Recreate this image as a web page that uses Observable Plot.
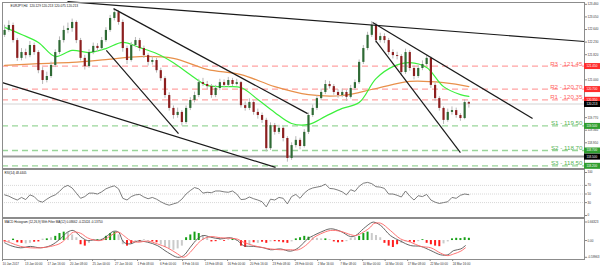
<!DOCTYPE html>
<html>
<head>
<meta charset="utf-8">
<script src="https://cdn.jsdelivr.net/npm/d3@7"></script>
<script src="https://cdn.jsdelivr.net/npm/@observablehq/plot@0.6"></script>
<style>
  html,body{margin:0;padding:0;background:#fff;}
  #chart{position:relative;width:600px;height:268px;overflow:hidden;background:#fff;}
  #chart svg{position:absolute;left:0;}
</style>
</head>
<body>
<div id="chart"></div>
<script>
// ---------- DATA (EURJPY H4, one candle = 3 H4 bars) ----------
const mainHeader = "EURJPY,H4  120.129 120.213 120.075 120.213";
const rsiHeader = "RSI(14) 48.4405";
const macdHeader = "MACD Histogram (12,26,9) With Filter MA(12) 0.08662 -0.22424 -0.13750";

const firstOpen = 122.45;
const closes = [
 122.61,122.77,122.28,121.70,121.89,121.79,122.12,121.89,121.30,120.98,
 121.11,121.47,121.89,122.28,122.61,122.67,122.87,122.28,121.70,121.43,
 121.89,122.09,122.02,122.28,122.61,123.00,123.19,122.87,122.02,121.63,
 122.12,122.28,122.02,121.79,121.57,121.63,121.30,121.04,120.49,120.07,
 119.84,119.94,119.61,120.07,120.33,120.49,120.91,120.85,120.78,120.49,
 120.72,120.91,120.82,120.98,120.85,120.91,120.16,120.07,120.26,119.94,
 119.84,119.68,118.76,119.51,119.29,119.42,119.09,118.44,118.86,119.03,
 118.83,119.29,119.84,120.07,120.39,120.59,120.85,120.78,120.59,120.49,
 120.59,120.43,120.72,120.91,121.57,122.02,122.45,122.77,122.28,122.41,
 122.28,121.89,121.79,121.76,121.24,121.89,121.37,121.11,121.37,121.50,
 121.70,120.82,120.39,120.07,119.68,119.94,120.00,119.84,119.74,120.26,
 120.21];
const highs = [
 122.78,122.92,122.85,122.35,122.02,122.00,122.25,122.20,121.95,121.40,
 121.25,121.58,121.98,122.40,122.75,122.85,122.98,122.92,122.35,121.80,
 121.98,122.20,122.18,122.38,122.70,123.10,123.30,123.25,122.95,122.10,
 122.22,122.38,122.35,122.10,121.85,121.75,121.70,121.38,121.10,120.58,
 120.15,120.08,120.00,120.15,120.42,120.60,121.02,121.05,120.95,120.85,
 120.82,121.02,121.00,121.08,121.05,121.02,120.95,120.28,120.38,120.32,
 120.05,119.92,119.75,119.60,119.58,119.52,119.48,119.15,118.95,119.15,
 119.10,119.38,119.92,120.18,120.48,120.70,120.98,120.95,120.85,120.68,
 120.70,120.66,120.82,121.00,121.65,122.12,122.55,122.90,122.85,122.52,
 122.50,122.35,121.98,121.90,121.82,122.00,121.95,121.45,121.48,121.62,
 121.82,121.75,120.90,120.45,120.12,120.05,120.12,120.08,119.90,120.35,
 120.30];
const lows = [
 122.38,122.55,122.20,121.60,121.62,121.68,121.72,121.80,121.20,120.85,
 120.90,121.05,121.40,121.82,122.20,122.50,122.55,122.18,121.62,121.32,
 121.38,121.82,121.90,121.95,122.22,122.55,122.92,122.78,121.90,121.50,
 121.58,122.05,121.92,121.70,121.45,121.48,121.22,120.95,120.40,119.98,
 119.72,119.75,119.50,119.55,120.00,120.25,120.42,120.78,120.68,120.40,
 120.42,120.65,120.74,120.76,120.78,120.80,120.08,119.98,120.00,119.85,
 119.72,119.58,118.65,118.70,119.20,119.22,118.98,118.32,118.38,118.78,
 118.72,118.78,119.22,119.78,120.00,120.32,120.52,120.70,120.50,120.40,
 120.42,120.30,120.38,120.65,120.85,121.50,121.95,122.38,122.18,122.20,
 122.18,121.80,121.68,121.65,121.12,121.18,121.28,121.00,121.05,121.30,
 121.45,120.72,120.30,119.98,119.55,119.62,119.85,119.75,119.65,119.70,
 120.08];

// moving averages (candle index, price)
const greenIdx = [0,4,8,12,16,20,24,28,32,36,40,44,48,52,56,60,64,68,72,76,80,84,88,92,96,100,104,108,110];
const greenVals = [122.71,122.48,122.22,121.76,121.96,121.89,122.02,122.22,122.05,121.86,
  121.56,121.17,120.82,120.78,120.75,120.36,119.94,119.58,119.55,119.81,
  120.07,120.26,121.04,121.43,121.56,121.40,120.78,120.52,120.46];
const orangeIdx = [0,8,16,24,32,40,48,56,64,72,80,88,96,104,110];
const orangeVals = [121.47,121.53,121.57,121.66,121.76,121.70,121.34,121.17,120.78,120.52,120.49,120.72,120.95,120.91,120.78];

// trend lines (candle index, price)
const trendX1 = [14.9, 25.8, 24.1, -0.5, 87.2, 87.9];
const trendY1 = [123.55, 123.32, 121.96, 120.91, 122.87, 122.28];
const trendX2 = [137.4, 71.8, 41.2, 64.2, 125.1, 108.0];
const trendY2 = [122.25, 119.90, 119.25, 118.15, 119.74, 118.63];

// pivot levels
const levelKinds = ["R","R","R","S","S","S"];
const levelValues = [121.45, 120.70, 120.35, 119.50, 118.70, 118.20];
const levelLabels = ["R3 - 121.45","R2 - 120.70","R1 - 120.35","S1 - 119.50","S2 - 118.70","S3 - 118.50"];
const levelBoxText = ["121.450","120.700","120.350","119.500","118.700","118.200"];
const lastPrice = 120.213;
const greyLevel = 118.50;
const greyLevelText = "118.500";
const priceTicks = [123.46,123.05,122.64,122.23,121.82,121.00,119.77,119.36,118.95];

// RSI(14), one value per candle
const rsiVals = [
 48,45,40,36,42,37,48,44,34,31,
 38,44,48,56,66,70,64,52,40,44,
 52,52,50,55,62,66,69,62,40,36,
 44,48,49,43,39,42,38,32,27,24,
 27,30,38,50,58,65,62,52,54,53,
 57,57,55,54,57,50,37,38,43,39,
 36,32,20,38,36,42,40,27,44,49,
 40,52,60,64,66,68,73,63,62,59,
 55,48,60,56,68,75,77,74,67,66,
 63,50,50,47,43,57,45,36,46,44,
 49,36,31,28,30,32,42,40,47,50,
 48.44];
const rsiLevels = [70, 50, 30];
const rsiTicks = [100, 70, 50, 30, 0];

// MACD histogram, one per candle, with colour code g/r/s
const histVals = [
 -0.05,-0.08,0.05,-0.08,-0.10,-0.12,-0.10,-0.06,-0.05,0.05,
 0.06,0.10,0.15,0.25,0.30,0.28,0.20,0.10,-0.15,-0.20,
 -0.10,0.04,0.03,0.05,0.15,0.25,0.30,0.20,-0.15,-0.20,
 -0.12,-0.05,-0.04,0.03,-0.03,-0.05,-0.08,-0.15,-0.25,-0.30,
 -0.35,-0.30,-0.20,0.10,0.20,0.30,0.25,0.18,0.12,-0.05,
 -0.04,0.05,-0.03,0.03,0.04,-0.02,-0.20,-0.25,-0.15,-0.08,
 -0.10,-0.06,-0.10,-0.05,-0.04,-0.05,-0.08,-0.10,-0.05,0.06,
 0.10,0.15,0.12,0.10,0.08,0.06,0.06,0.03,-0.05,-0.08,
 -0.06,-0.04,0.08,0.10,0.15,0.25,0.30,0.25,0.18,0.10,
 -0.10,-0.20,-0.25,-0.15,-0.10,-0.05,-0.06,-0.08,-0.04,0.03,
 -0.10,-0.15,-0.20,-0.22,-0.12,-0.05,0.06,0.08,0.07,0.10,0.08];
const histCodes = ("rsgrrssrrs" + "gsgggsssrr" + "ssgsgggssr" + "rsrssrrsss" + "sssggggssr" +
  "rsrsgsrrsr" + "srrsrrrrsg" + "gggsssgsrr" + "rsssgggsss" + "rrrrssrrsg" + "rrrrssggggg").split("");

// MACD main / signal lines (candle index)
const macdIdx = [0,1.4,3.8,6.1,8.5,10.9,13.2,14.9,16.3,18,19.6,21.1,22.7,24.4,25.8,27,28.2,29.8,31.5,33.9,
  36.2,38.6,41,42.4,44,45.7,47.1,48.8,51.2,53.5,55.2,56.6,59,61.4,63,65.4,67.7,69.6,71.8,73.2,
  74.9,77.2,79.6,82,83.2,85,86.7,87.4,89.1,91.4,93.8,96.2,98.6,101,103.3,105,106.4,108.1,109.2];
const macdMain = [-0.08,-0.18,-0.26,-0.21,-0.26,-0.18,0.06,0.30,0.36,0.14,0.00,0.02,0.02,0.18,0.33,0.30,-0.06,-0.12,-0.02,-0.06,
  -0.18,-0.42,-0.60,-0.54,-0.24,0.06,0.18,0.12,0.06,0.10,0.00,-0.18,-0.21,-0.26,-0.33,-0.30,-0.38,-0.26,0.06,0.18,
  0.30,0.42,0.33,0.14,0.18,0.42,0.62,0.66,0.54,0.18,-0.02,-0.18,-0.21,-0.36,-0.51,-0.51,-0.36,-0.30,-0.18];
const macdSignal = [-0.01,-0.08,-0.21,-0.26,-0.26,-0.21,-0.10,0.12,0.30,0.26,0.10,0.02,0.00,0.10,0.24,0.30,0.18,0.00,-0.06,-0.02,
  -0.12,-0.26,-0.48,-0.60,-0.42,-0.12,0.06,0.14,0.10,0.08,0.05,-0.06,-0.18,-0.26,-0.30,-0.33,-0.33,-0.33,-0.12,0.10,
  0.24,0.36,0.33,0.21,0.18,0.30,0.48,0.60,0.62,0.36,0.06,-0.06,-0.21,-0.26,-0.45,-0.54,-0.48,-0.38,-0.26];
const macdMax = 0.66323, macdMin = -0.59963;
const macdTicks = [macdMax, 0, macdMin];

// time axis labels (every 16 H4 bars)
const dateLabels = ["10 Jan 2017","13 Jan 00:00","17 Jan 16:00","20 Jan 08:00","25 Jan 00:00","27 Jan 16:00",
  "1 Feb 08:00","6 Feb 00:00","8 Feb 16:00","13 Feb 08:00","16 Feb 00:00","20 Feb 16:00","23 Feb 08:00",
  "28 Feb 00:00","2 Mar 16:00","7 Mar 08:00","10 Mar 00:00","14 Mar 16:00","17 Mar 08:00","22 Mar 00:00","24 Mar 16:00"];

// ---------- BUILD ----------
const FONT = "'Liberation Sans', Arial, sans-serif";
const X_DOMAIN = [-0.5, 137.4];
const X_RANGE = [2, 584];
const X_AXIS_END = X_DOMAIN[1] + (X_DOMAIN[1] - X_DOMAIN[0]) * (600 - X_RANGE[1]) / (X_RANGE[1] - X_RANGE[0]);
const RED = "#ff2d2d", GREEN = "#2f9e2f";

const candles = closes.map((c, i) => ({i, open: i === 0 ? firstOpen : closes[i - 1], close: c, high: highs[i], low: lows[i]}));
const greenMA = greenIdx.map((x, k) => ({x, v: greenVals[k]}));
const orangeMA = orangeIdx.map((x, k) => ({x, v: orangeVals[k]}));
const trends = trendX1.map((x1, k) => ({x1, y1: trendY1[k], x2: trendX2[k], y2: trendY2[k]}));
const levels = levelValues.map((v, k) => ({value: v, kind: levelKinds[k], label: levelLabels[k]}));
const boxes = levelValues.map((v, k) => ({value: v, text: levelBoxText[k], color: levelKinds[k] === "R" ? RED : GREEN}))
  .concat([{value: lastPrice, text: lastPrice.toFixed(3), color: "#000"}, {value: greyLevel, text: greyLevelText, color: "#000"}]);
const histData = histVals.map((v, i) => ({i, v, color: {g: "#16a016", r: "#ff1c1c", s: "#cacaca"}[histCodes[i]]}));
const macdData = macdIdx.map((x, k) => ({x, main: macdMain[k], signal: macdSignal[k]}));
const dateTicks = dateLabels.map((_, k) => 16 * k / 3 - 0.5);
const labelAt = new Map(dateTicks.map((t, k) => [t, dateLabels[k]]));

const baseStyle = {background: "transparent", overflow: "visible", fontFamily: FONT};
const xOpt = {domain: X_DOMAIN, range: X_RANGE, axis: null};

const mainChart = Plot.plot({
  width: 600, height: 169,
  marginTop: 2, marginRight: 16, marginBottom: 1, marginLeft: 2,
  x: xOpt,
  y: {domain: [118.113, 123.52], range: [168, 2], axis: null},
  color: {type: "identity"},
  style: baseStyle,
  marks: [
    Plot.ruleY([lastPrice], {stroke: "#d4d4d4", strokeWidth: 1}),
    Plot.ruleY([greyLevel], {stroke: "#9a9a9a", strokeWidth: 2}),
    Plot.ruleY(levels, {y: "value", stroke: d => d.kind === "R" ? "#ffa3a3" : "#9ad69a", strokeWidth: 1.3, strokeDasharray: "6,4"}),
    Plot.line(orangeMA, {x: "x", y: "v", stroke: "#e8904a", strokeWidth: 1.2, curve: "catmull-rom"}),
    Plot.line(greenMA, {x: "x", y: "v", stroke: "#3cf03c", strokeWidth: 1.2, curve: "catmull-rom"}),
    Plot.ruleX(candles, {x: "i", y1: "low", y2: "high", stroke: "#b8b8b8", strokeWidth: 1}),
    Plot.ruleX(candles, {x: "i", y1: "open", y2: "close", stroke: d => d.close >= d.open ? "#2f6a35" : "#8c1f1f", strokeWidth: 2.2}),
    Plot.link(trends, {x1: "x1", y1: "y1", x2: "x2", y2: "y2", stroke: "#1a1a1a", strokeWidth: 1.2}),
    Plot.text(levels, {x: X_DOMAIN[1], y: "value", text: "label", textAnchor: "end", lineAnchor: "bottom", dx: -2, dy: -0.5,
      fontSize: 6.2, fill: d => d.kind === "R" ? "#ff5f5f" : "#55b455"}),
    Plot.frame({stroke: "#8c8c8c"}),
    Plot.axisY(priceTicks, {anchor: "right", tickSize: 2, tickPadding: 1, tickFormat: d => d.toFixed(3), fontSize: 3, stroke: "#888", fill: "#333"}),
    Plot.ruleY(boxes, {y: "value", x1: X_DOMAIN[1], x2: X_AXIS_END, stroke: "color", strokeWidth: 6}),
    Plot.text(boxes, {x: X_DOMAIN[1], y: "value", text: "text", dx: 2, textAnchor: "start", fill: "#fff", fontSize: 3}),
    Plot.text([mainHeader], {frameAnchor: "top-left", dx: 8, dy: 2, lineAnchor: "top", textAnchor: "start", fontSize: 3.2, fill: "#111"})
  ]
});

const rsiChart = Plot.plot({
  width: 600, height: 50,
  marginTop: 1, marginRight: 16, marginBottom: 1, marginLeft: 2,
  x: xOpt,
  y: {domain: [0, 100], range: [47, 4], axis: null},
  style: baseStyle,
  marks: [
    Plot.ruleY(rsiLevels, {stroke: "#d8d8d8", strokeDasharray: "1,1"}),
    Plot.lineY(rsiVals, {stroke: "#6e6e6e", strokeWidth: 0.9}),
    Plot.frame({stroke: "#8c8c8c"}),
    Plot.axisY(rsiTicks, {anchor: "right", tickSize: 2, tickPadding: 1, fontSize: 3, stroke: "#888", fill: "#333"}),
    Plot.text([rsiHeader], {frameAnchor: "top-left", dx: 2, dy: 2, lineAnchor: "top", textAnchor: "start", fontSize: 3, fill: "#111"})
  ]
});

const macdChart = Plot.plot({
  width: 600, height: 51,
  marginTop: 1, marginRight: 16, marginBottom: 9, marginLeft: 2,
  x: xOpt,
  y: {domain: [macdMin, macdMax], range: [39.8, 4.5], axis: null},
  color: {type: "identity"},
  style: baseStyle,
  marks: [
    Plot.ruleX(histData, {x: "i", y1: 0, y2: "v", stroke: "color", strokeWidth: 2}),
    Plot.line(macdData, {x: "x", y: "main", stroke: "#555", strokeWidth: 0.9, curve: "catmull-rom"}),
    Plot.line(macdData, {x: "x", y: "signal", stroke: "#ff6464", strokeWidth: 0.9, curve: "catmull-rom"}),
    Plot.frame({stroke: "#8c8c8c"}),
    Plot.axisY(macdTicks, {anchor: "right", tickSize: 2, tickPadding: 1, fontSize: 3, stroke: "#888", fill: "#333",
      tickFormat: d => d === 0 ? "0.00" : d.toFixed(5)}),
    Plot.axisX(dateTicks, {anchor: "bottom", tickSize: 2, tickPadding: 1, fontSize: 3, stroke: "#888", fill: "#333",
      textAnchor: "start", tickFormat: d => labelAt.get(d)}),
    Plot.text([macdHeader], {frameAnchor: "top-left", dx: 2, dy: 2, lineAnchor: "top", textAnchor: "start", fontSize: 3, fill: "#111"})
  ]
});

const host = document.getElementById("chart");
[[mainChart, 0], [rsiChart, 168], [macdChart, 217]].forEach(([svg, top]) => {
  svg.style.top = top + "px";
  host.appendChild(svg);
});
</script>
</body>
</html>
